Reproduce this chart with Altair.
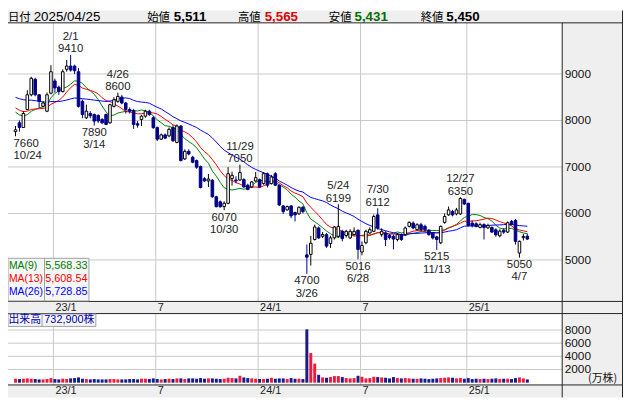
import altair as alt
import pandas as pd

# ---------------- data ----------------
first_week = "2022-10-24"

opens = [7760, 7950, 7850, 8235, 8553, 8885, 8553, 8306, 8200, 8588,
         8850, 8716, 8624, 9100, 9170, 9170, 9049, 8412, 8058, 8150,
         8129, 8110, 8022, 8129, 7950, 8305, 8412, 8504, 8376, 8235,
         8214, 7930, 8022, 8093, 8199, 8058, 7846, 7598, 7690, 7669,
         7846, 7527, 7881, 7173, 7336, 7209, 7138, 7010, 6749, 6700,
         6713, 6359, 6250, 6147, 6218, 6750, 6720, 6720, 6728, 6608,
         6572, 6700, 6728, 6643, 6855, 6643, 6855, 6608, 6162, 6077,
         6162, 6020, 5992, 6134, 5110, 5120, 5440, 5688, 5510, 5546,
         5355, 5475, 5510, 5617, 5525, 5475, 5545, 5638, 5171, 5369,
         5581, 5616, 5970, 5545, 5581, 5525, 5510, 5440, 5545, 5545,
         5723, 5793, 5652, 5758, 5723, 5638, 5581, 5496, 5369, 5808,
         5970, 6041, 5991, 5991, 6303, 6218, 5793, 5779, 5700, 5760,
         5690, 5700, 5650, 5520, 5640, 5600, 5830, 5850, 5150, 5480,
         5511]
highs = [7880, 8000, 8200, 8650, 8940, 8920, 8570, 8420, 8600, 9190,
         8900, 8750, 9100, 9300, 9410, 9200, 9130, 8450, 8340, 8200,
         8150, 8130, 8050, 8150, 8360, 8500, 8600, 8550, 8400, 8280,
         8250, 7990, 8120, 8230, 8230, 8100, 7870, 7720, 7720, 7850,
         7900, 7916, 7900, 7380, 7380, 7240, 7160, 7030, 6780, 6850,
         6740, 6380, 6280, 6260, 6996, 6900, 6800, 7050, 6760, 6640,
         6700, 6890, 6750, 6890, 6880, 6830, 6890, 6620, 6180, 6170,
         6180, 6040, 6150, 6160, 5334, 5520, 5760, 5720, 5600, 5580,
         5520, 5730, 6199, 5650, 5650, 5660, 5700, 5660, 5400, 5650,
         5700, 5980, 6112, 5680, 5620, 5560, 5550, 5580, 5570, 5720,
         5830, 5830, 5790, 5800, 5760, 5660, 5600, 5520, 5740, 6000,
         6150, 6080, 6120, 6350, 6320, 6230, 5850, 5810, 5800, 5790,
         5780, 5720, 5680, 5660, 5680, 5830, 5860, 5880, 5420, 5560,
         5565]
lows = [7660, 7760, 7840, 8230, 8520, 8520, 8270, 8280, 8180, 8560,
        8600, 8550, 8600, 9050, 9050, 9000, 8280, 8050, 8030, 8050,
        7890, 7950, 7920, 7900, 7930, 8280, 8380, 8350, 8150, 8150,
        7820, 7846, 7880, 8060, 8100, 7820, 7560, 7580, 7600, 7640,
        7540, 7510, 7120, 7150, 7250, 7080, 6960, 6540, 6680, 6570,
        6340, 6130, 6120, 6070, 6200, 6600, 6650, 6700, 6550, 6500,
        6550, 6680, 6560, 6620, 6560, 6620, 6590, 6160, 5990, 6060,
        5900, 5830, 5970, 6000, 4700, 4880, 5420, 5450, 5470, 5260,
        5260, 5440, 5480, 5400, 5480, 5450, 5520, 5016, 5100, 5340,
        5560, 5600, 5650, 5500, 5300, 5440, 5227, 5400, 5410, 5520,
        5700, 5660, 5630, 5620, 5610, 5520, 5440, 5215, 5340, 5780,
        5950, 5940, 5960, 5970, 6180, 5720, 5700, 5700, 5680, 5440,
        5670, 5580, 5500, 5490, 5560, 5580, 5740, 5330, 5050, 5420,
        5431]
closes = [7800, 7850, 8150, 8553, 8907, 8553, 8412, 8376, 8553, 9049,
          8700, 8624, 9049, 9170, 9084, 9070, 8305, 8129, 8200, 8100,
          7987, 7990, 7950, 7916, 8340, 8447, 8518, 8376, 8235, 8200,
          7916, 7900, 8093, 8199, 8130, 7846, 7598, 7690, 7620, 7810,
          7563, 7881, 7138, 7336, 7280, 7103, 6996, 6558, 6700, 6740,
          6359, 6147, 6147, 6220, 6855, 6820, 6700, 6880, 6572, 6516,
          6678, 6770, 6572, 6855, 6608, 6785, 6608, 6183, 6041, 6148,
          5950, 5970, 6134, 6041, 5060, 5360, 5709, 5475, 5546, 5298,
          5475, 5709, 5723, 5460, 5616, 5616, 5616, 5227, 5312, 5616,
          5652, 5935, 5687, 5616, 5439, 5482, 5450, 5545, 5440, 5687,
          5808, 5687, 5758, 5652, 5652, 5546, 5475, 5440, 5723, 5935,
          6077, 5970, 6076, 6324, 6204, 5737, 5737, 5722, 5760, 5700,
          5740, 5600, 5540, 5620, 5600, 5800, 5770, 5400, 5400, 5505,
          5450]
volumes = [600, 550, 600, 650, 600, 550, 500, 500, 550, 700,
           550, 500, 600, 550, 650, 700, 800, 600, 550, 500,
           550, 500, 500, 500, 550, 550, 500, 500, 500, 550,
           550, 500, 600, 600, 550, 650, 550, 500, 550, 600,
           550, 650, 650, 550, 650, 650, 600, 700, 600, 650,
           650, 600, 550, 600, 750, 700, 650, 1050, 800, 700,
           650, 600, 550, 550, 600, 750, 600, 650, 650, 550,
           700, 600, 600, 550, 8100, 4500, 2900, 1200, 800, 750,
           850, 1000, 1000, 850, 700, 650, 700, 1050, 900, 650,
           700, 900, 850, 800, 750, 650, 850, 700, 650, 700,
           650, 600, 600, 650, 600, 550, 600, 650, 700, 750,
           800, 750, 650, 700, 600, 700, 550, 600, 550, 600,
           550, 600, 650, 550, 600, 600, 550, 700, 800, 650,
           500]
# closes of the 25 weeks before the first visible week (moving-average warm-up)
prior_closes = [8600, 8700, 8800, 8900, 8850, 8750, 8800, 8700, 8650, 8700,
                8600, 8700, 8662, 8500, 8550, 8400, 8440, 8400, 8350, 8300,
                8250, 8200, 8150, 8100, 8070]

ma_periods = [9, 13, 26]
ma_names = ["MA(9)", "MA(13)", "MA(26)"]
ma_values = ["5,568.33", "5,608.54", "5,728.85"]

grid_weeks = ["2023-01-02", "2023-07-03", "2024-01-01", "2024-07-01", "2025-01-06"]
grid_labels = ["23/1", "7", "24/1", "7", "25/1"]
price_ticks = [5000, 6000, 7000, 8000, 9000]
vol_ticks = [2000, 4000, 6000, 8000]

ann_weeks = ["2022-10-24", "2023-01-30", "2023-03-13", "2023-04-24", "2023-10-30",
             "2023-11-27", "2024-03-25", "2024-05-20", "2024-06-24", "2024-07-29",
             "2024-11-11", "2024-12-23", "2025-04-07"]
ann_kind = ["low", "high", "low", "high", "low", "high", "low", "high", "low",
            "high", "low", "high", "low"]
ann_dates = ["10/24", "2/1", "3/14", "4/26", "10/30", "11/29", "3/26", "5/24",
             "6/28", "7/30", "11/13", "12/27", "4/7"]

header_date_label = "日付"
header_date = "2025/04/25"
header_labels = ["始値", "高値", "安値", "終値"]
header_values = ["5,511", "5,565", "5,431", "5,450"]
volume_caption = "出来高"
volume_today = "732,900株"
volume_unit = "(万株)"

# ---------------- layout / style ----------------
W, H = 623, 392
XR = 561.4      # right edge of plotting area
Y_HEAD = 12.5   # header bottom
Y_P1 = 294.7    # price panel bottom
Y_V0 = 307.0    # volume panel top
Y_V1 = 379.3    # volume panel bottom

GRAY = "#efefef"
LINE = "#222222"
GRID = "#c8c8c8"
NAVY = "#000088"
RED = "#ee1c3c"
FONT = "Liberation Sans, Noto Sans CJK JP, sans-serif"
CJK = "Noto Sans CJK JP, sans-serif"
MA_COLORS = ["#008000", "#ff0000", "#0000ff"]

n = len(closes)
dates = pd.date_range(first_week, periods=n, freq="7D")
week_index = {d.strftime("%Y-%m-%d"): k for k, d in enumerate(dates)}

df = pd.DataFrame({"i": range(n), "open": opens, "high": highs, "low": lows,
                   "close": closes, "volume": volumes})
all_c = pd.Series(prior_closes + closes, dtype=float)
for p in ma_periods:
    df[f"ma{p}"] = all_c.rolling(p).mean().to_numpy()[len(prior_closes):]
df["up"] = df["close"] >= df["open"]
up_df = df[df["up"]]
dn_df = df[~df["up"]]

xs = alt.Scale(domain=[-0.6543, 153.05], nice=False, zero=False)
ps = alt.Scale(domain=[2042.5, 10365.2], nice=False, zero=False)
vs = alt.Scale(domain=[-2250, 56550], nice=False, zero=False)
X = alt.X("i:Q", scale=xs, axis=None)

one = pd.DataFrame({"k": [0]})


def box(x0, x1, y0, y1, fill, stroke=None):
    kw = dict(fill=fill)
    if stroke:
        kw.update(stroke=stroke, strokeWidth=1)
    return alt.Chart(one).mark_rect(**kw).encode(
        x=alt.value(x0), x2=alt.value(x1), y=alt.value(y0), y2=alt.value(y1))


def hline(y, x0, x1, color=LINE):
    return alt.Chart(one).mark_rule(color=color, strokeWidth=1).encode(
        x=alt.value(x0), x2=alt.value(x1), y=alt.value(y))


def vline(x, y0, y1, color=LINE):
    return alt.Chart(one).mark_rule(color=color, strokeWidth=1).encode(
        x=alt.value(x), y=alt.value(y0), y2=alt.value(y1))


def label(x, y, text, size=12, color="#000000", align="left", weight="normal",
          font=FONT, baseline="alphabetic"):
    return alt.Chart(one).mark_text(
        align=align, baseline=baseline, fontSize=size, fontWeight=weight,
        font=font, color=color).encode(
        x=alt.value(x), y=alt.value(y), text=alt.value(text))


grid_df = pd.DataFrame({"gx": [week_index[d] - 0.37 for d in grid_weeks],
                        "label": grid_labels})
GX = alt.X("gx:Q", scale=xs, axis=None)
pt_df = pd.DataFrame({"v": price_ticks, "t": [str(v) for v in price_ticks]})
vt_df = pd.DataFrame({"v": vol_ticks, "t": [str(v) for v in vol_ticks]})

# ---------------- background & frame ----------------
bg = [
    box(0, W, 0, Y_HEAD, GRAY),
    box(XR, W, Y_HEAD, Y_P1, GRAY),
    box(0, W, Y_P1, Y_V0, GRAY),
    box(XR, W, Y_V0, Y_V1, GRAY),
    box(0, W, Y_V1, H, GRAY),
    alt.Chart(grid_df).mark_rule(color=GRID).encode(
        x=GX, y=alt.value(Y_HEAD), y2=alt.value(Y_P1)),
    alt.Chart(grid_df).mark_rule(color=GRID).encode(
        x=GX, y=alt.value(Y_V0), y2=alt.value(Y_V1)),
    alt.Chart(grid_df).mark_text(align="left", dx=2, baseline="middle", fontSize=11,
                                 font=FONT, color="#222222").encode(
        x=GX, y=alt.value(300.9), text="label:N"),
    alt.Chart(grid_df).mark_text(align="left", dx=2, baseline="middle", fontSize=11,
                                 font=FONT, color="#222222").encode(
        x=GX, y=alt.value(385.8), text="label:N"),
]

# ---------------- price panel ----------------
PY = lambda f: alt.Y(f, scale=ps, axis=None)
price_layers = [
    alt.Chart(pt_df).mark_rule(color=GRID).encode(
        y=PY("v:Q"), x=alt.value(0), x2=alt.value(XR)),
    alt.Chart(pt_df).mark_text(align="left", baseline="middle", fontSize=12,
                               font=FONT, color="#111111").encode(
        y=PY("v:Q"), x=alt.value(XR + 2.5), text="t:N"),
]
for p, c in zip(ma_periods, MA_COLORS):
    price_layers.append(alt.Chart(df).mark_line(color=c, strokeWidth=1).encode(
        x=X, y=PY(f"ma{p}:Q")))
price_layers += [
    alt.Chart(up_df).mark_rule(color="#000000", strokeWidth=1).encode(
        x=X, y=PY("low:Q"), y2=alt.Y2("high:Q")),
    alt.Chart(dn_df).mark_rule(color=NAVY, strokeWidth=1).encode(
        x=X, y=PY("low:Q"), y2=alt.Y2("high:Q")),
    alt.Chart(up_df).mark_bar(size=2.6, fill="#ffffff", stroke="#000000",
                              strokeWidth=1).encode(
        x=X, y=PY("open:Q"), y2=alt.Y2("close:Q")),
    alt.Chart(dn_df).mark_bar(size=2.6, fill=NAVY, stroke=NAVY,
                              strokeWidth=1).encode(
        x=X, y=PY("open:Q"), y2=alt.Y2("close:Q")),
]

ann_rows = []
for w, kind, dtext in zip(ann_weeks, ann_kind, ann_dates):
    k = week_index[w]
    price = highs[k] if kind == "high" else lows[k]
    ann_rows.append({"i": k, "price": price, "val": str(price), "dt": dtext, "kind": kind})
ann = pd.DataFrame(ann_rows)
offsets = {"high": {"val": -5.5, "dt": -18}, "low": {"val": 7.5, "dt": 20}}
for sub_all, align, dx in [(ann[ann["i"] > 0], "center", 0), (ann[ann["i"] == 0], "left", -2)]:
    for kind in ["high", "low"]:
        sub = sub_all[sub_all["kind"] == kind]
        if len(sub) == 0:
            continue
        for field in ["val", "dt"]:
            price_layers.append(alt.Chart(sub).mark_text(
                align=align, dx=dx, dy=offsets[kind][field], baseline="middle",
                fontSize=11.5, font=FONT, color="#222222").encode(
                x=X, y=PY("price:Q"), text=f"{field}:N"))
price = alt.layer(*price_layers)

# ---------------- volume panel ----------------
VY = lambda f: alt.Y(f, scale=vs, axis=None)
volume = alt.layer(
    alt.Chart(vt_df).mark_rule(color=GRID).encode(
        y=VY("v:Q"), x=alt.value(0), x2=alt.value(XR)),
    alt.Chart(vt_df).mark_text(align="left", baseline="middle", fontSize=12,
                               font=FONT, color="#111111").encode(
        y=VY("v:Q"), x=alt.value(XR + 2.5), text="t:N"),
    alt.Chart(up_df).mark_bar(size=3, color=RED).encode(
        x=X, y=VY("volume:Q"), y2=alt.datum(0)),
    alt.Chart(dn_df).mark_bar(size=3, color="#1a1a8c").encode(
        x=X, y=VY("volume:Q"), y2=alt.datum(0)),
)

# ---------------- foreground: frames, header, legends ----------------
HB = 10.6  # header text baseline
fg = [
    hline(Y_HEAD, 0, W), hline(Y_P1, 0, W), hline(Y_V0, 0, W), hline(Y_V1, 0, W),
    vline(XR, Y_HEAD, H), vline(W - 0.5, 0, H),
    # header
    label(0, HB, header_date_label, size=11.5, font=CJK),
    label(26, HB, header_date, size=13.5),
]
hx = [(141, 168), (233, 260), (325, 351), (418, 444)]
hcol = ["#000000", "#e00000", "#006e00", "#000000"]
for (lx, vx), lab, val, col in zip(hx, header_labels, header_values, hcol):
    fg.append(label(lx, HB, lab, size=11.5, font=CJK))
    fg.append(label(vx, HB, val, size=13.5, weight="bold", color=col))

# moving-average legend
fg += [box(0, 82, 251, Y_P1 - 0.5, "#f6f6f6", "#a0a0a0"), vline(37, 251, Y_P1 - 0.5, "#a0a0a0")]
for k, (nm, vv, col) in enumerate(zip(ma_names, ma_values, MA_COLORS)):
    yy = 258.5 + 13.5 * k
    fg.append(label(1, yy, nm, size=10.5, color=col, baseline="middle"))
    fg.append(label(80.5, yy, vv, size=11, color=col, align="right", baseline="middle"))

# volume caption
fg += [box(0, 89, Y_V0 + 0.5, 320, "#f6f6f6", "#a0a0a0"), vline(34.5, Y_V0 + 0.5, 320, "#a0a0a0"),
       label(0.5, 314, volume_caption, size=11, color="#0000b0", font=CJK, baseline="middle"),
       label(87.5, 314, volume_today, size=11, color="#0000b0", align="right", baseline="middle"),
       label(617, 373.5, volume_unit, size=11, color="#111111", align="right",
             font=CJK, baseline="middle")]

chart = alt.layer(*bg, price, volume, *fg).resolve_scale(y="independent").properties(
    width=W, height=H, padding=0,
    autosize=alt.AutoSizeParams(type="none"),
).configure_view(stroke=None)

chart.save("out.html", embed_options={"renderer": "svg", "actions": False})
